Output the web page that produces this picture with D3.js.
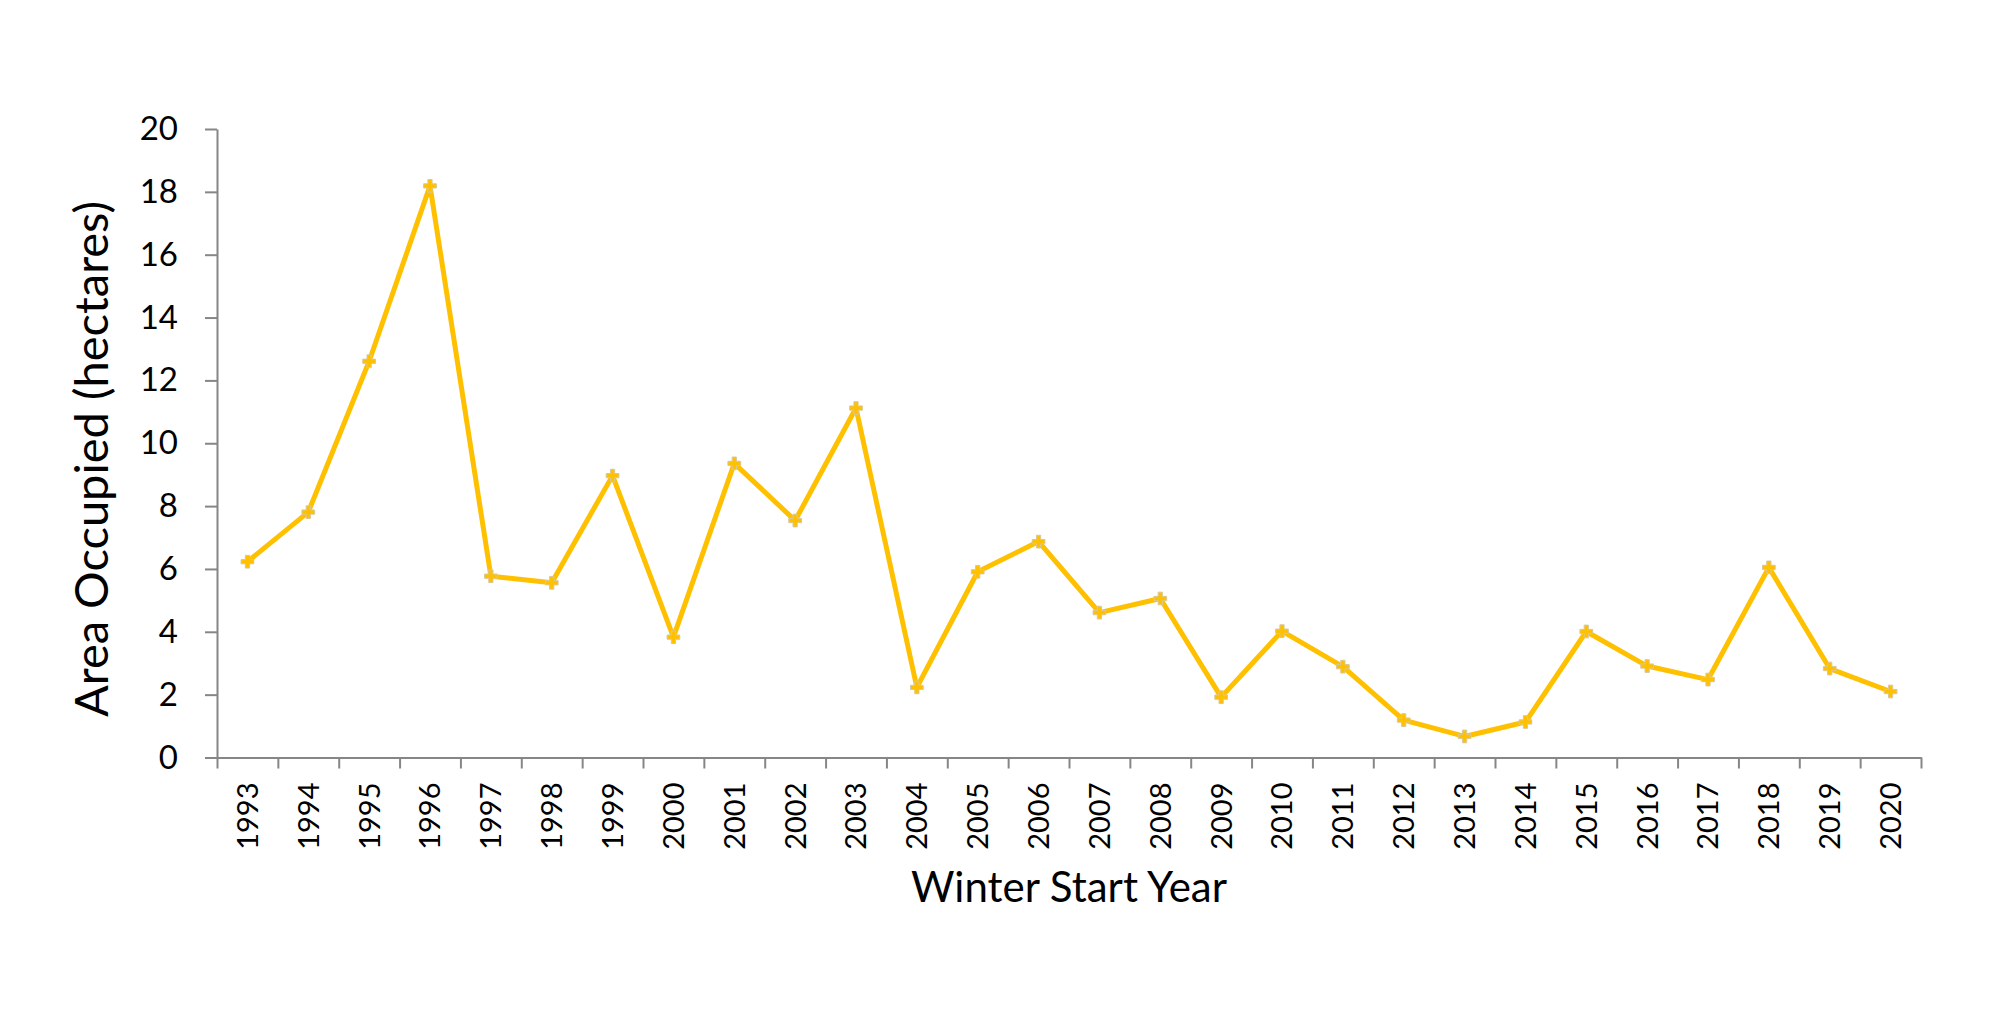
<!DOCTYPE html>
<html>
<head>
<meta charset="utf-8">
<script src="https://cdn.jsdelivr.net/npm/d3@7"></script>
<style>
  body { margin: 0; background: #fff; }
  text { font-family: Lato, "Noto Sans", sans-serif; fill: #000; }
</style>
</head>
<body>
<div id="chart"></div>
<script>
// data
const years = [1993, 1994, 1995, 1996, 1997, 1998, 1999, 2000, 2001, 2002,
  2003, 2004, 2005, 2006, 2007, 2008, 2009, 2010, 2011, 2012,
  2013, 2014, 2015, 2016, 2017, 2018, 2019, 2020];
const area = [6.23, 7.81, 12.61, 18.19, 5.77, 5.56, 8.97, 3.83, 9.36, 7.54,
  11.12, 2.23, 5.91, 6.87, 4.61, 5.06, 1.92, 4.02, 2.89, 1.19,
  0.67, 1.13, 4.01, 2.91, 2.48, 6.05, 2.83, 2.10];
const yTicks = [0, 2, 4, 6, 8, 10, 12, 14, 16, 18, 20];

const width = 2000, height = 1029;
const margin = { top: 129, right: 79, bottom: 271.5, left: 217 };
const axisColor = "#868686";
const lineColor = "#FFC000";

const svg = d3.select("#chart").append("svg")
    .attr("width", width)
    .attr("height", height);

const x = d3.scaleBand()
    .domain(years)
    .range([margin.left, width - margin.right])
    .padding(0);

// edges of the categories, used for the tick marks between labels
const xEdge = d3.scaleLinear()
    .domain([0, years.length])
    .range([margin.left, width - margin.right]);

const y = d3.scaleLinear()
    .domain([0, 20])
    .range([height - margin.bottom, margin.top]);

// y axis
const yAxis = svg.append("g")
    .attr("transform", `translate(${margin.left},0)`)
    .call(d3.axisLeft(y).tickValues(yTicks).tickSize(12).tickSizeOuter(0).tickPadding(27));
yAxis.selectAll("text").style("font-size", "33px").style("font-family", "Lato");

// x axis tick marks at category edges
const xAxis = svg.append("g")
    .attr("transform", `translate(0,${y(0)})`)
    .call(d3.axisBottom(xEdge).tickValues(d3.range(years.length + 1)).tickSize(11).tickSizeOuter(0).tickFormat(""));

// x labels, rotated
svg.append("g")
    .selectAll("text")
    .data(years)
    .join("text")
    .attr("transform", d => `translate(${x(d) + x.bandwidth() / 2},${y(0) + 25}) rotate(-90)`)
    .attr("text-anchor", "end")
    .attr("dy", "0.36em")
    .style("font-size", "29px")
    .text(d => d);

svg.selectAll(".domain, .tick line")
    .attr("stroke", axisColor)
    .attr("stroke-width", 2);

// line
const line = d3.line()
    .x((d, i) => x(years[i]) + x.bandwidth() / 2)
    .y(d => y(d));

svg.append("path")
    .datum(area)
    .attr("d", line)
    .attr("fill", "none")
    .attr("stroke", lineColor)
    .attr("stroke-width", 5)
    .attr("stroke-linejoin", "round");

// markers
svg.append("g")
    .selectAll("path")
    .data(area)
    .join("path")
    .attr("transform", (d, i) => `translate(${x(years[i]) + x.bandwidth() / 2},${y(d)})`)
    .attr("d", d3.symbol(d3.symbolCross, 90))
    .attr("fill", lineColor)
    .attr("stroke", "#d8c89a")
    .attr("stroke-width", 1);

// axis titles
svg.append("text")
    .attr("x", (margin.left + width - margin.right) / 2)
    .attr("y", 902)
    .attr("text-anchor", "middle")
    .style("font-size", "42px")
    .text("Winter Start Year");

svg.append("text")
    .attr("transform", "translate(108,459) rotate(-90)")
    .attr("text-anchor", "middle")
    .style("font-size", "47px")
    .text("Area Occupied (hectares)");
</script>
</body>
</html>
